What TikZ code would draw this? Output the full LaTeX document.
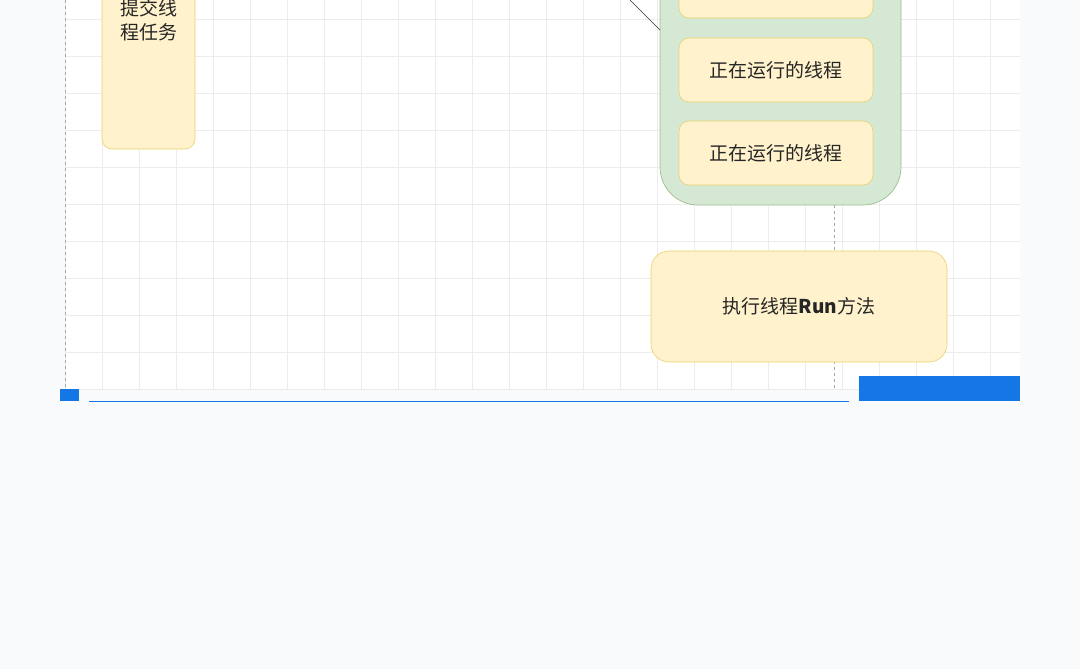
\documentclass[tikz,border=0pt]{standalone}
\usepackage{fontspec}
\setmainfont{Noto Sans CJK SC}
\newfontfamily\cjk{Noto Sans CJK SC}
\begin{document}
\begin{tikzpicture}[x=1pt,y=-1pt,
  ybox/.style={draw=yellow!50!brown!70, fill=yellowfill, rounded corners=10pt, line width=0.6pt},
  txt/.style={font=\fontsize{19}{24}\selectfont, text=black!85},
  blue/.style={fill=barblue, draw=none}]
\definecolor{bg}{HTML}{F8FAFC}
\definecolor{yellowfill}{HTML}{FFF2CC}
\definecolor{greenfill}{HTML}{D5E8D4}
\definecolor{greendraw}{HTML}{9DBF8E}
\definecolor{gridc}{HTML}{ECECEC}
\definecolor{barblue}{HTML}{1577E6}
\useasboundingbox (0,0) rectangle (1080,669);
\fill[bg] (0,0) rectangle (1080,669);
\fill[white] (65,0) rectangle (1020,390);
\begin{scope}
\clip (65,0) rectangle (1020,390);
\foreach \x in {0,...,26} \draw[gridc, line width=0.6pt] ({65+37*\x},0) -- ({65+37*\x},390);
\foreach \y in {0,...,10} \draw[gridc, line width=0.6pt] (65,{19+37*\y}) -- (1020,{19+37*\y});
\end{scope}
\draw[gray!70, dashed, line width=0.5pt] (65,0) -- (65,390);
\draw[gray!70, dashed, line width=0.5pt] (834,205) -- (834,390);
% left box
\draw[ybox] (102,-20) rectangle (195,149);
\node[txt, align=center] (submit) at (148.5,20) {提交线\\程任务};
% green container
\draw[fill=greenfill, draw=greendraw, rounded corners=38pt, line width=0.7pt] (660,-40) rectangle (901,205);
\node[coordinate] (lstart) at (630,0) {};
\node[coordinate] (lend) at (660,30) {};
\draw[black!80, line width=0.6pt] (lstart) -- (lend);
\draw[ybox] (679,-40) rectangle (873,18);
\draw[ybox] (679,38) rectangle (873,102);
\node[txt] (t2) at (776,70) {正在运行的线程};
\draw[ybox] (679,121) rectangle (873,185);
\node[txt] (t3) at (776,153) {正在运行的线程};
% run box
\draw[ybox, rounded corners=18pt] (651,251) rectangle (947,362);
\node[txt] (run) at (799,306) {执行线程\textbf{Run}方法};
% bottom bars
\fill[blue] (60,389) rectangle (79,401);
\draw[barblue, line width=1pt] (89,401) -- (849,401);
\fill[blue] (859,376) rectangle (1020,401);
\end{tikzpicture}
\end{document}
